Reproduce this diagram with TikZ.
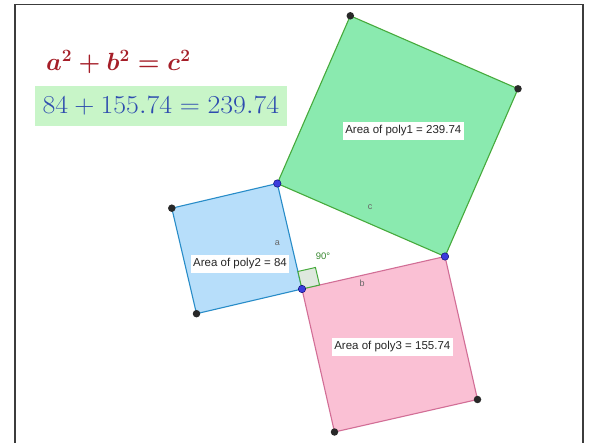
\documentclass[tikz,border=0pt]{standalone}
\usepackage{fontspec}
\setsansfont{Liberation Sans}
\usetikzlibrary{calc}
\definecolor{gfill}{RGB}{138,234,175}
\definecolor{gedge}{RGB}{70,170,60}
\definecolor{bfill}{RGB}{183,222,250}
\definecolor{bedge}{RGB}{40,140,200}
\definecolor{pfill}{RGB}{250,192,212}
\definecolor{pedge}{RGB}{210,110,150}
\definecolor{eqbox}{RGB}{200,245,200}
\definecolor{eqred}{RGB}{165,30,40}
\definecolor{eqblue}{RGB}{45,75,175}
\definecolor{ptblue}{RGB}{60,60,220}
\definecolor{ptblack}{RGB}{40,40,40}
\definecolor{angfill}{RGB}{222,232,222}
\definecolor{frame}{RGB}{60,60,60}
\tikzset{
  sq/.style={line width=1.1pt, line join=round},
  arealbl/.style={fill=white, font=\sffamily\fontsize{11.5}{13}\selectfont, inner xsep=2.5pt, inner ysep=3.5pt, text=black!85},
  sidelbl/.style={font=\sffamily\fontsize{9}{10}\selectfont, text=black!60, inner sep=0pt},
  freept/.style={circle, fill=ptblack, inner sep=0pt, minimum size=7.5pt},
  basept/.style={circle, fill=ptblue, draw=blue!40!black, line width=0.4pt, inner sep=0pt, minimum size=7.5pt},
}
\begin{document}
\begin{tikzpicture}[x=1pt,y=-1pt]
\useasboundingbox (0,0) rectangle (589,443);
\fill[white] (0,0) rectangle (589,443);
% frame
\draw[frame, line width=1.8pt] (15,443) -- (15,4.5) -- (583,4.5) -- (583,443);
% vertices
\coordinate (R) at (302,289);
\coordinate (A) at (277.3,183.5);
\coordinate (B) at (445,256.5);
\coordinate (D) at (171.8,208.2);
\coordinate (E) at (196.5,313.7);
\coordinate (P1) at (477.5,399.5);
\coordinate (P2) at (334.5,432);
\coordinate (G1) at (518,88.8);
\coordinate (G2) at (350.3,15.8);
% squares
\filldraw[sq, fill=gfill, draw=gedge] (A) -- (B) -- (G1) -- (G2) -- cycle;
\filldraw[sq, fill=bfill, draw=bedge] (R) -- (A) -- (D) -- (E) -- cycle;
\filldraw[sq, fill=pfill, draw=pedge] (R) -- (B) -- (P1) -- (P2) -- cycle;
% right angle mark
\filldraw[fill=angfill, draw=gedge, line width=1pt]
  (R) -- ($(R)!18pt!(B)$) -- ($($(R)!18pt!(B)$)+($(R)!18pt!(A)$)-(R)$) -- ($(R)!18pt!(A)$) -- cycle;
\node[font=\sffamily\fontsize{9.5}{11}\selectfont, text=gedge!80!black] (ang) at (323,256.5) {90°};
% side labels
\node[sidelbl] (la) at (277.3,243.3) {a};
\node[sidelbl] (lb) at (362,283.5) {b};
\node[sidelbl] (lc) at (370,207.5) {c};
% area labels
\node[arealbl] (ar1) at (403.3,131) {Area of poly1 = 239.74};
\node[arealbl] (ar2) at (240,263.7) {Area of poly2 = 84};
\node[arealbl] (ar3) at (392.3,347) {Area of poly3 = 155.74};
% points
\node[freept] (pD) at (D) {};
\node[freept] (pE) at (E) {};
\node[freept] (pP1) at (P1) {};
\node[freept] (pP2) at (P2) {};
\node[freept] (pG1) at (G1) {};
\node[freept] (pG2) at (G2) {};
\node[basept] (pR) at (R) {};
\node[basept] (pA) at (A) {};
\node[basept] (pB) at (B) {};
% equations
\node[anchor=base west, inner sep=0pt, text=eqred, font=\fontsize{25}{29}\selectfont\boldmath] (eq1) at (46,71) {$a^2+b^2=c^2$};
\fill[eqbox] (35,86) rectangle (287,126);
\node[anchor=base west, inner sep=0pt, text=eqblue, font=\fontsize{25}{30}\selectfont, xscale=1.12, yscale=1.04] (eq2) at (42.5,113.5) {$84+155.74=239.74$};
\end{tikzpicture}
\end{document}
